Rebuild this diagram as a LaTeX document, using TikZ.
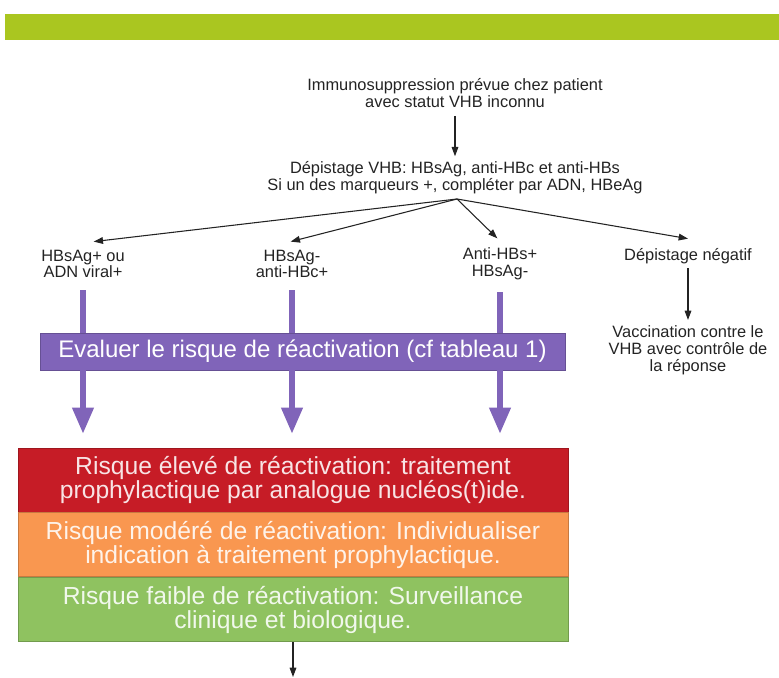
\documentclass[tikz,border=0pt]{standalone}
\usepackage{fontspec}
\setmainfont{Liberation Sans}
\usetikzlibrary{arrows.meta}
\definecolor{barC}{RGB}{170,198,32}
\definecolor{purpC}{RGB}{128,100,185}
\definecolor{redC}{RGB}{198,28,38}
\definecolor{oraC}{RGB}{249,151,80}
\definecolor{grnC}{RGB}{143,194,96}
\definecolor{inkC}{RGB}{35,35,35}
\tikzset{
  lbl/.style={align=center, inner sep=0pt, text=inkC, font=\fontsize{12.3}{12.6}\selectfont},
  tarrow/.style={draw=inkC, line width=0.8pt, -{Triangle[length=7pt,width=5pt]}},
  pline/.style={draw=purpC, line width=5.2pt},
  parrow/.style={draw=purpC, line width=5.2pt, -{Triangle[length=20pt,width=15pt]}},
  evalbox/.style={fill=purpC, draw=purpC!80!black, line width=0.6pt, text=white,
    minimum width=525*0.75pt, minimum height=37*0.75pt, inner sep=0pt,
    font=\fontsize{18}{18}\selectfont},
  riskbox/.style={fill=#1, draw=#1!80!black, line width=0.6pt, text=white!88!#1,
    minimum width=550*0.75pt, minimum height=64*0.75pt, inner sep=0pt, align=center,
    font=\fontsize{18.5}{18}\selectfont}
}
\begin{document}
\begin{tikzpicture}[x=0.75pt,y=-0.75pt]
\useasboundingbox (0,0) rectangle (779,678);
\fill[barC] (5,14) rectangle (779,40);
\node[lbl] (top) at (455,93) {Immunosuppression prévue chez patient\\avec statut VHB inconnu};
\node[lbl] (dep) at (455,178) {Dépistage VHB: HBsAg, anti-HBc et anti-HBs\\Si un des marqueurs +, compléter par ADN, HBeAg};
\coordinate (fan) at (457,199);
\node[lbl] (l1) at (83,264) {HBsAg+ ou\\ADN viral+};
\node[lbl] (l2) at (292,264) {HBsAg-\\anti-HBc+};
\node[lbl] (l3) at (500,264) {Anti-HBs+\\HBsAg-};
\node[lbl] (l4) at (688,256) {Dépistage négatif};
\node[lbl] (vac) at (688,350) {Vaccination contre le\\VHB avec contrôle de\\la réponse};
\node[evalbox] (eval) at (302.5,351.5) {Evaluer le risque de réactivation (cf tableau 1)};
\node[riskbox=redC] (r) at (293,480) {Risque élevé de réactivation: traitement\\prophylactique par analogue nucléos(t)ide.};
\node[riskbox=oraC, anchor=north] (o) at (r.south) {Risque modéré de réactivation: Individualiser\\indication à traitement prophylactique.};
\node[riskbox=grnC, anchor=north] (g) at (o.south) {Risque faible de réactivation: Surveillance\\clinique et biologique.};
\coordinate (end) at (293,677);
\draw[tarrow, shorten <=6pt, shorten >=4pt] (top.south) -- (dep.north);
\draw[tarrow] (fan) -- ([shift={(8pt,6pt)}]l1.north);
\draw[tarrow] (fan) -- ([shift={(-1pt,6pt)}]l2.north);
\draw[tarrow] (fan) -- ([shift={(-2pt,7pt)}]l3.north);
\draw[tarrow] (fan) -- ([yshift=7pt]l4.north);
\draw[tarrow, shorten <=3pt, shorten >=4pt] (l4.south) -- (vac.north);
\foreach \n in {l1,l2,l3}{
  \draw[pline] ([yshift=-9pt]\n.south) -- (\n.south |- eval.north);
  \draw[parrow] (\n.south |- eval.south) -- ([yshift=10pt]\n.south |- r.north);
}
\draw[tarrow] (g.south) -- (end);
\end{tikzpicture}
\end{document}
